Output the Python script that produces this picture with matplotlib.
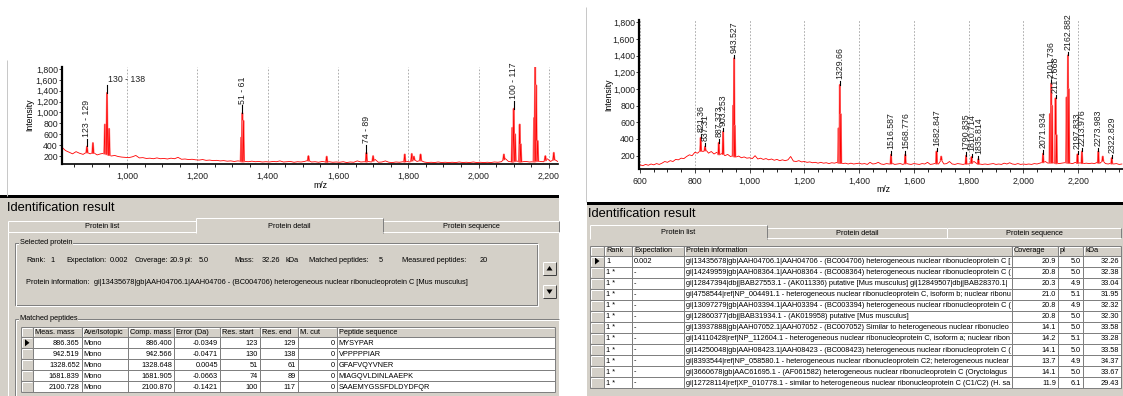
import matplotlib
matplotlib.use('Agg')
import matplotlib.pyplot as plt
from matplotlib.patches import Rectangle, Polygon
from matplotlib.ticker import MultipleLocator, FuncFormatter
import numpy as np

plt.rcParams['font.family'] = ['Liberation Sans', 'DejaVu Sans']

W, H = 1123, 396
GRAY = '#d4d0c8'
DARK = '#808080'
FS_L = 5.3
FS_R = 5.3
TITLE_FS = 9.3
TICK_FS = 6.3

# ---------------- spectrum data (left = protein detail view) ----------------
left_start = 815  # first m/z of the baseline trace, 10 Da apart
left_base = [
    360, 300, 270, 240, 280, 250, 230, 270, 240, 260, 220, 240, 250, 230, 200,
    210, 190, 180, 175, 170, 185, 210, 165, 170, 155, 160, 150, 165, 150, 155,
    145, 160, 150, 175, 140, 145, 135, 140, 130, 125, 135, 120, 125, 115, 120,
    110, 115, 105, 110, 100, 110, 105, 100, 95, 105, 95, 100, 90, 95, 90,
    100, 95, 110, 90, 95, 100, 85, 95, 90, 100, 120, 90, 95, 85, 100,
    90, 95, 85, 90, 85, 95, 80, 90, 85, 110, 90, 95, 100, 90, 140,
    85, 90, 110, 85, 80, 90, 85, 95, 100, 90, 140, 100, 120, 90, 80,
    85, 80, 90, 80, 85, 80, 85, 80, 90, 80, 85, 80, 90, 80, 85,
    80, 85, 80, 90, 85, 95, 160, 100, 95, 110, 100, 95, 100, 90, 95,
    110, 100, 95, 150, 100, 140, 100,
]
left_peak_mz = [886, 903, 937, 943, 949, 1325, 1328, 1331, 1516, 1568, 1681, 1700,
                1790, 1810, 1816, 1835, 2072, 2096, 2100, 2104, 2117, 2120, 2158,
                2161, 2164, 2168, 2190, 2214]
left_peak_h = [375, 440, 780, 1360, 700, 540, 990, 850, 200, 190, 260, 200,
               230, 240, 190, 230, 230, 720, 1070, 600, 780, 420, 900,
               1840, 1500, 480, 200, 260]
left_peak_label = ['123 - 129', '', '', '130 - 138', '', '', '51 - 61', '', '', '', '74 - 89', '',
                   '', '', '', '', '', '', '100 - 117', '', '', '', '',
                   '', '', '', '', '']

# ---------------- spectrum data (right = protein list view) ----------------
right_start = 600
right_base = [
    90, 80, 95, 85, 100, 90, 105, 95, 110, 130, 120, 140, 130, 155, 150,
    170, 165, 190, 210, 200, 240, 230, 260, 250, 270, 230, 250, 220, 240, 210,
    230, 200, 215, 190, 200, 185, 195, 175, 185, 170, 175, 165, 200, 160, 170,
    155, 165, 150, 160, 145, 155, 140, 150, 140, 150, 190, 135, 130, 140, 125,
    130, 120, 125, 115, 120, 110, 120, 110, 115, 105, 115, 110, 120, 115, 105,
    110, 100, 110, 100, 105, 110, 100, 105, 95, 120, 100, 105, 120, 100, 95,
    105, 100, 110, 95, 100, 105, 95, 110, 100, 95, 105, 100, 95, 105, 100,
    120, 95, 100, 110, 100, 150, 100, 105, 130, 100, 95, 105, 100, 95, 105,
    100, 110, 130, 105, 100, 95, 100, 95, 100, 105, 95, 100, 95, 110, 100,
    115, 100, 95, 105, 95, 100, 95, 100, 95, 105, 100, 110, 120, 130, 110,
    120, 115, 110, 105, 110, 115, 120, 110, 105, 120, 110, 115, 105, 110, 105,
    110, 105, 120, 110, 140, 105, 100, 110, 100, 105, 95, 100,
]
right_peak_mz = [821.36, 837.31, 887.373, 903.253, 940, 943.527, 946, 1325, 1329.66, 1333,
                 1516.587, 1568.776, 1682.847, 1700, 1790.835, 1810.714, 1835.814,
                 2071.934, 2097, 2101.736, 2105, 2117.668, 2121, 2158, 2162.882, 2166,
                 2197.833, 2213.976, 2273.983, 2290, 2322.829]
right_peak_h = [415, 310, 355, 490, 800, 1370, 560, 530, 1050, 700,
                212, 212, 251, 190, 200, 185, 160,
                224, 700, 1067, 800, 889, 450, 900, 1405, 1000,
                217, 251, 251, 190, 172]
right_peak_label = ['821.36', '837.31', '887.373', '903.253', '', '943.527', '', '', '1329.66', '',
                    '1516.587', '1568.776', '1682.847', '', '1790.835', '1810.714', '1835.814',
                    '2071.934', '', '2101.736', '', '2117.668', '', '', '2162.882', '',
                    '2197.833', '2213.976', '2273.983', '', '2322.829']

# ---------------- table data ----------------
sel_rank = '1'
sel_expect = '0.002'
sel_coverage = '20.9'
sel_pi = '5.0'
sel_mass = '32.26'
sel_matched = '5'
sel_measured = '20'
sel_info = 'gi|13435678|gb|AAH04706.1|AAH04706 - (BC004706) heterogeneous nuclear ribonucleoprotein C [Mus musculus]'

pep_headers = ['Meas. mass', 'Ave/Isotopic', 'Comp. mass', 'Error (Da)', 'Res. start', 'Res. end', 'M. cut', 'Peptide sequence']
pep_meas = ['886.365', '942.519', '1328.652', '1681.839', '2100.728']
pep_iso = ['Mono', 'Mono', 'Mono', 'Mono', 'Mono']
pep_comp = ['886.400', '942.566', '1328.648', '1681.905', '2100.870']
pep_err = ['-0.0349', '-0.0471', '0.0045', '-0.0663', '-0.1421']
pep_start = [123, 130, 51, 74, 100]
pep_end = [129, 138, 61, 89, 117]
pep_cut = [0, 0, 0, 0, 0]
pep_seq = ['MYSYPAR', 'VPPPPPIAR', 'GFAFVQYVNER', 'MIAGQVLDINLAAEPK', 'SAAEMYGSSFDLDYDFQR']

prot_headers = ['Rank', 'Expectation', 'Protein information', 'Coverage', 'pI', 'kDa']
prot_rank = ['1'] + ['1 *'] * 11
prot_expect = ['0.002'] + ['-'] * 11
prot_info = [
    'gi|13435678|gb|AAH04706.1|AAH04706 - (BC004706) heterogeneous nuclear ribonucleoprotein C [Mus musculus]',
    'gi|14249959|gb|AAH08364.1|AAH08364 - (BC008364) heterogeneous nuclear ribonucleoprotein C (C1/C2)',
    'gi|12847394|dbj|BAB27553.1 - (AK011336) putative [Mus musculus] gi|12849507|dbj|BAB28370.1| (AK014190)',
    'gi|4758544|ref|NP_004491.1 - heterogeneous nuclear ribonucleoprotein C, isoform b; nuclear ribonucleoprotein',
    'gi|13097279|gb|AAH03394.1|AAH03394 - (BC003394) heterogeneous nuclear ribonucleoprotein C (C1/C2)',
    'gi|12860377|dbj|BAB31934.1 - (AK019958) putative [Mus musculus]',
    'gi|13937888|gb|AAH07052.1|AAH07052 - (BC007052) Similar to heterogeneous nuclear ribonucleoprotein',
    'gi|14110428|ref|NP_112604.1 - heterogeneous nuclear ribonucleoprotein C, isoform a; nuclear ribonucleoprotein',
    'gi|14250048|gb|AAH08423.1|AAH08423 - (BC008423) heterogeneous nuclear ribonucleoprotein C (C1/C2)',
    'gi|8393544|ref|NP_058580.1 - heterogeneous nuclear ribonucleoprotein C2; heterogeneous nuclear',
    'gi|3660678|gb|AAC61695.1 - (AF061582) heterogeneous nuclear ribonucleoprotein C (Oryctolagus cuniculus)',
    'gi|12728114|ref|XP_010778.1 - similar to heterogeneous nuclear ribonucleoprotein C (C1/C2) (H. sapiens)',
]
prot_coverage = [20.9, 20.8, 20.3, 21.0, 20.8, 20.8, 14.1, 14.2, 14.1, 13.7, 14.1, 11.9]
prot_pi = [5.0, 5.0, 4.9, 5.1, 4.9, 5.0, 5.0, 5.1, 5.0, 4.9, 5.0, 6.1]
prot_kda = [32.26, 32.38, 33.04, 31.95, 32.32, 32.30, 33.58, 33.28, 33.58, 34.37, 33.67, 29.43]

fig = plt.figure(figsize=(W / 100, H / 100), dpi=100)
fig.patch.set_facecolor('white')
gui = fig.add_axes([0, 0, 1, 1])
gui.set_xlim(0, W)
gui.set_ylim(H, 0)
gui.axis('off')
renderer = fig.canvas.get_renderer()


def px_axes(x0, y0, x1, y1):
    return fig.add_axes([x0 / W, 1 - y1 / H, (x1 - x0) / W, (y1 - y0) / H])


def hline(x0, x1, y, color, lw=1):
    gui.plot([x0, x1], [y, y], color=color, lw=lw * 0.72, solid_capstyle='butt')


def vline(x, y0, y1, color, lw=1):
    gui.plot([x, x], [y0, y1], color=color, lw=lw * 0.72, solid_capstyle='butt')


def rect(x0, y0, x1, y1, color):
    gui.add_patch(Rectangle((x0, y0), x1 - x0, y1 - y0, facecolor=color, edgecolor='none', lw=0))


def label(x, y, s, fs, ha='left', xmax=None, **kw):
    t = gui.text(x, y, s, ha=ha, va='center', fontsize=fs, **kw)
    if xmax is not None:
        # cut the text at the column edge, like a grid cell does
        limit = gui.transData.transform((xmax, 0))[0]
        while s and t.get_window_extent(renderer).x1 > limit:
            s = s[:-1]
            t.set_text(s)
    return t


def tab(x0, x1, y0, y1, text, sel, fs):
    top = y0 if sel else y0 + 3
    rect(x0, top, x1, y1, GRAY)
    hline(x0, x1, top, 'white')
    vline(x0, top, y1, 'white')
    vline(x1 - 0.5, top, y1, DARK)
    label((x0 + x1) / 2, (top + y1) / 2 + 0.5, text, fs, ha='center')


def group(x0, y0, x1, y1, title, fs):
    gui.add_patch(Rectangle((x0, y0), x1 - x0, y1 - y0, fill=False, edgecolor=DARK, lw=0.72))
    gui.add_patch(Rectangle((x0 + 1, y0 + 1), x1 - x0, y1 - y0, fill=False, edgecolor='white', lw=0.72))
    gui.text(x0 + 5, y0, title, fontsize=fs, va='center', ha='left',
             bbox=dict(facecolor=GRAY, edgecolor='none', pad=0.6))


def table(cols, y0, head_h, row_h, headers, columns, aligns, y_bottom, fs):
    n = len(columns[0])
    x_left, x_right = cols[0], cols[-1]
    y_rows = y0 + head_h
    y_end = y_rows + n * row_h
    rect(x_left, y0, x_right, y_bottom, GRAY)
    rect(cols[1], y_rows, x_right, y_end, 'white')
    rect(x_left, y0, x_right, y_rows, GRAY)
    for x in cols:
        vline(x, y0, y_end, DARK)
    hline(x_left, x_right, y0, DARK)
    for i in range(n + 1):
        hline(x_left, x_right, y_rows + i * row_h, DARK)
    for j in range(len(cols) - 1):
        hline(cols[j] + 1, cols[j + 1] - 1, y0 + 1, 'white')
        vline(cols[j] + 1, y0 + 1, y_rows - 1, 'white')
    for i in range(n):
        hline(x_left + 1, cols[1] - 1, y_rows + i * row_h + 1, 'white')
        vline(x_left + 1, y_rows + i * row_h + 1, y_rows + (i + 1) * row_h - 1, 'white')
    for j, h in enumerate(headers):
        label(cols[j + 1] + 2, y0 + head_h / 2 + 0.5, h, fs, xmax=cols[j + 2] - 1)
    for j, (col, a) in enumerate(zip(columns, aligns)):
        cx0, cx1 = cols[j + 1], cols[j + 2]
        for i, v in enumerate(col):
            yc = y_rows + (i + 0.5) * row_h + 0.5
            if a == 'left':
                label(cx0 + 2, yc, str(v), fs, xmax=cx1 - 1)
            else:
                label(cx1 - 2, yc, str(v), fs, ha='right')
    yc = y_rows + row_h / 2
    mx = (cols[0] + cols[1]) / 2
    gui.add_patch(Polygon([[mx - 2, yc - 3.5], [mx - 2, yc + 3.5], [mx + 2.5, yc]],
                          closed=True, facecolor='black', edgecolor='none'))


def draw_spectrum(ax, start, base, pk_mz, pk_h, pk_lab, xlim, ylim, stem, gap, horiz=()):
    mz = start + 10 * np.arange(len(base))
    ax.plot(mz, base, color='#ff0000', lw=0.6)
    for m, h, lab in zip(pk_mz, pk_h, pk_lab):
        b = np.interp(m, mz, base)
        ax.plot([m - 2, m, m + 2], [b, h, b], color='#ff8080', lw=1.4)
        ax.plot([m - 2, m, m + 2], [b, h, b], color='#ff0000', lw=0.6)
        if lab:
            ax.plot([m, m], [h, h + stem], color='black', lw=0.8)
            if lab in horiz:
                ax.text(m + 2, h + stem + 100, lab, ha='left', va='center', fontsize=TICK_FS, color='#202020')
            else:
                ax.text(m, h + stem + gap, lab, rotation=90, ha='center', va='bottom',
                        fontsize=TICK_FS, color='#202020')
    ax.set_xlim(*xlim)
    ax.set_ylim(*ylim)
    ax.set_facecolor('white')
    for s in ('top', 'right'):
        ax.spines[s].set_visible(False)
    ax.spines['left'].set_linewidth(1.6)
    ax.spines['bottom'].set_linewidth(1.2)
    ax.xaxis.set_major_locator(MultipleLocator(200))
    ax.xaxis.set_minor_locator(MultipleLocator(50))
    ax.set_yticks(range(200, 1801, 200))
    fmt = FuncFormatter(lambda v, p: f'{v:,.0f}')
    ax.xaxis.set_major_formatter(fmt)
    ax.yaxis.set_major_formatter(fmt)
    ax.tick_params(axis='both', labelsize=TICK_FS, width=0.6, colors='#202020')
    ax.tick_params(axis='x', which='major', length=3, pad=2.5)
    ax.tick_params(axis='x', which='minor', length=2, width=0.6)
    ax.tick_params(axis='y', length=2, pad=1)
    ax.grid(axis='x', which='major', ls=(0, (2, 2)), color='#a0a0a0', lw=0.6)
    ax.set_axisbelow(True)


# ---------------- left panel ----------------
vline(7, 60, 196, '#c8c8c8')
axL = px_axes(62, 67.3, 558, 164)
draw_spectrum(axL, left_start, left_base, left_peak_mz, left_peak_h, left_peak_label,
              (815, 2226), (53, 1831), 140, 30, horiz=('130 - 138',))
gui.text(30, 115, 'Intensity', rotation=90, ha='center', va='center', fontsize=TICK_FS)
gui.text(320, 185, 'm/z', ha='center', va='center', fontsize=TICK_FS)

rect(0, 197, 559, H, GRAY)
rect(0, 195, 559, 197.5, 'black')
label(7, 208, 'Identification result', TITLE_FS)
tab(8, 196, 218, 232, 'Protein list', False, FS_L)
tab(383, 559, 218, 232, 'Protein sequence', False, FS_L)
tab(196, 383, 218, 233, 'Protein detail', True, FS_L)
hline(8, 196, 232, 'white')
hline(383, 559, 232, 'white')
vline(8, 232, H, 'white')

group(15, 243, 537, 305, 'Selected protein', FS_L)
for x, s in [(26, 'Rank:'), (50, sel_rank), (66, 'Expectation:'), (110, sel_expect),
             (135, 'Coverage:'), (170, sel_coverage), (185, 'pI:'), (199, sel_pi),
             (234, 'Mass:'), (262, sel_mass), (285, 'kDa'), (309, 'Matched peptides:'),
             (379, sel_matched), (402, 'Measured peptides:'), (480, sel_measured)]:
    label(x, 261, s, FS_L)
label(26, 282, 'Protein information:', FS_L)
label(94, 282, sel_info, FS_L)

for yb, tri in [(262, [[-3, 2], [3, 2], [0, -2.5]]), (285, [[-3, -2], [3, -2], [0, 2.5]])]:
    rect(543, yb, 556, yb + 13, GRAY)
    hline(543, 556, yb, 'white')
    vline(543, yb, yb + 13, 'white')
    hline(543, 556, yb + 13, '#404040')
    vline(556, yb, yb + 13, '#404040')
    gui.add_patch(Polygon([[549.5 + a, yb + 6.5 + b] for a, b in tri], closed=True,
                          facecolor='black', edgecolor='none'))

hline(15, 559, 319, DARK)
hline(16, 559, 320, 'white')
vline(15, 319, H, DARK)
vline(16, 320, H, 'white')
gui.text(20, 319, 'Matched peptides', fontsize=FS_L, va='center', ha='left',
         bbox=dict(facecolor=GRAY, edgecolor='none', pad=0.6))
pep_cols = [20.7, 33.3, 81.7, 128.3, 174, 220, 260, 297.7, 336.7, 555]
table(pep_cols, 327, 10.3, 11, pep_headers,
      [pep_meas, pep_iso, pep_comp, pep_err, pep_start, pep_end, pep_cut, pep_seq],
      ['right', 'left', 'right', 'right', 'right', 'right', 'right', 'left'], H, FS_L)

# ---------------- right panel ----------------
vline(586, 7, 202, '#c8c8c8')
axR = px_axes(639, 20, 1123, 169)
draw_spectrum(axR, right_start, right_base, right_peak_mz, right_peak_h, right_peak_label,
              (596, 2364), (40, 1828), 40, 25)
gui.text(609, 95, 'Intensity', rotation=90, ha='center', va='center', fontsize=TICK_FS)
gui.text(883, 190, 'm/z', ha='center', va='center', fontsize=TICK_FS)

rect(587, 204, W, H, GRAY)
rect(587, 202, W, 204.5, 'black')
label(588, 214, 'Identification result', TITLE_FS)
tab(767, 947, 225, 238, 'Protein detail', False, FS_R)
tab(947, 1121, 225, 238, 'Protein sequence', False, FS_R)
tab(590, 767, 225, 239, 'Protein list', True, FS_R)
hline(767, 1121, 238, 'white')
prot_cols = [590, 604, 632, 684, 1012, 1058, 1083, 1121]
table(prot_cols, 245.5, 10, 11.06, prot_headers,
      [prot_rank, prot_expect, prot_info,
       [f'{v:.1f}' for v in prot_coverage], [f'{v:.1f}' for v in prot_pi],
       [f'{v:.2f}' for v in prot_kda]],
      ['left', 'left', 'left', 'right', 'right', 'right'], 388, FS_R)
hline(590, 1121, 388, DARK)

fig.savefig('out.png', dpi=100)
